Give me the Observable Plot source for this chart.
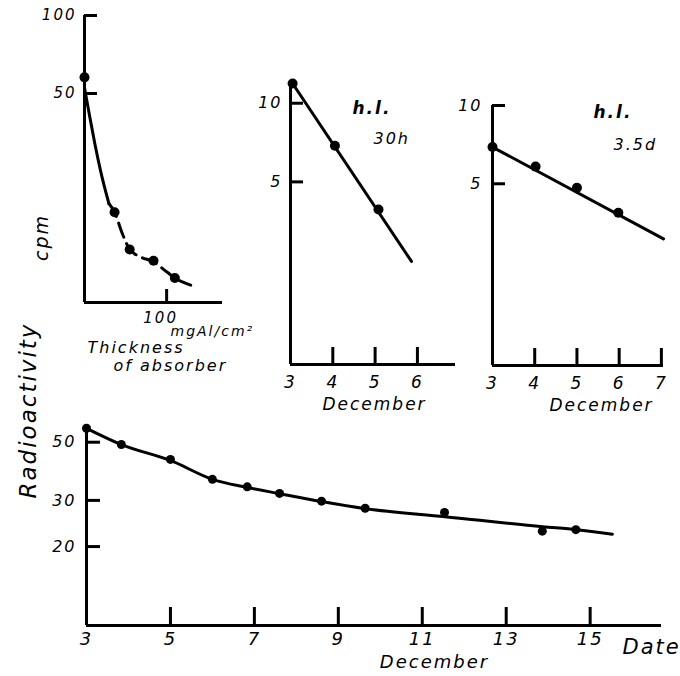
<!DOCTYPE html>
<html><head><meta charset="utf-8">
<script src="https://cdn.jsdelivr.net/npm/d3@7"></script>
<script src="https://cdn.jsdelivr.net/npm/@observablehq/plot@0.6"></script>
<style>
html,body{margin:0;padding:0;background:#fff;}
#chart{position:relative;width:680px;height:676px;background:#fff;overflow:hidden;}
#chart svg{position:absolute;overflow:visible;}
</style></head><body><div id="chart"></div>
<script>
// ---------- Data ----------
// Absorption curve (cpm vs thickness of absorber, mgAl/cm²)
const absorberX = [0, 36.6, 55, 84, 110];
const absorberCpm = [57.7, 17.4, 12.5, 11.3, 9.7];
const absorberFitX = [0, 6.5, 12.6, 19.5, 29.7, 36.6, 46, 55, 68.3, 83.7, 100.8, 110, 129.3];
const absorberFitCpm = [52.6, 40.5, 32.0, 25.2, 18.8, 17.4, 14.4, 12.5, 11.7, 11.2, 10.2, 9.7, 9.1];
const absorberXTicks = [100];
const absorberYTicks = [50, 100];

// Decay, half life 30 h (December 3-6)
const decayADay = [3.05, 4.05, 5.08];
const decayAValue = [11.9, 6.88, 3.92];
const decayAFitDay = [3.05, 5.86];
const decayAFitValue = [11.9, 2.48];
const decayAXTicks = [3, 4, 5, 6];
const decayAYTicks = [5, 10];

// Decay, half life 3.5 d (December 3-7)
const decayBDay = [3, 4.02, 5.0, 5.98];
const decayBValue = [6.92, 5.82, 4.83, 3.87];
const decayBFitDay = [3, 7.05];
const decayBFitValue = [6.92, 3.07];
const decayBXTicks = [3, 4, 5, 6, 7];
const decayBYTicks = [5, 10];

// Radioactivity vs date (December)
const dateDay = [3.0, 3.83, 5.0, 6.0, 6.83, 7.6, 8.6, 9.64, 11.53, 13.86, 14.66];
const dateValue = [56.5, 49, 43, 36.1, 33.8, 31.9, 29.8, 28.0, 27.0, 22.9, 23.2];
const dateFitDay = [3, 3.83, 5, 6, 6.84, 7.61, 8.6, 9.65, 11.54, 13.87, 14.68, 15.53];
const dateFitValue = [56.5, 49.0, 42.6, 36.1, 33.6, 31.8, 29.7, 27.9, 26.0, 23.8, 23.2, 22.3];
const dateXTicks = [3, 5, 7, 9, 11, 13, 15];
const dateYTicks = [20, 30, 50];

// ---------- Drawing ----------
const FONT = "'DejaVu Sans', 'Liberation Sans', sans-serif";
const idx = a => a.map((_, i) => i);

function label(str, anchor, dx, dy, opts = {}) {
  return Plot.text([str], {text: d => d, frameAnchor: anchor, dx, dy, fill: "#000", lineAnchor: "middle", ...opts});
}

function panel(cfg) {
  const {left, top, width, height, mt, mr, mb, ml, xDomain, yDomain, xTicks, yTicks,
    xTickLen, yTickLen, xPad, yPad, xSize, ySize, xLabelDx = 0, marks} = cfg;
  const p = Plot.plot({
    width, height,
    marginTop: mt, marginRight: mr, marginBottom: mb, marginLeft: ml,
    x: {type: "linear", domain: xDomain},
    y: {type: "log", domain: yDomain},
    style: {fontFamily: FONT, fontStyle: "italic", color: "#000", background: "transparent", overflow: "visible", letterSpacing: "2px"},
    marks: [
      Plot.ruleX([xDomain[0]], {stroke: "#000", strokeWidth: 3}),
      Plot.ruleY([yDomain[0]], {stroke: "#000", strokeWidth: 3}),
      Plot.axisY(yTicks, {anchor: "left", tickSize: yTickLen, dx: yTickLen, tickFormat: () => "", strokeWidth: 3}),
      Plot.axisY(yTicks, {anchor: "left", tickSize: 0, tickPadding: yPad, fontSize: ySize, tickFormat: d => String(d)}),
      Plot.axisX(xTicks, {anchor: "bottom", tickSize: xTickLen, dy: -xTickLen, tickFormat: () => "", strokeWidth: 3}),
      Plot.axisX(xTicks, {anchor: "bottom", tickSize: 0, tickPadding: xPad, dx: xLabelDx, fontSize: xSize, tickFormat: d => String(d)}),
      ...marks
    ]
  });
  p.style.position = "absolute";
  p.style.left = left + "px";
  p.style.top = top + "px";
  return p;
}

const chart = document.getElementById("chart");

// Panel A: absorption
const solidN = 5;
chart.appendChild(panel({
  left: 0, top: 0, width: 250, height: 380, mt: 15, mr: 28, mb: 78, ml: 84,
  xDomain: [0, 168], yDomain: [7.8, 100], xTicks: absorberXTicks, yTicks: absorberYTicks,
  xTickLen: 13, yTickLen: 13, xPad: 10, yPad: 8, xSize: 15, ySize: 15, xLabelDx: -6,
  marks: [
    Plot.line(idx(absorberFitX).slice(0, solidN), {x: i => absorberFitX[i], y: i => absorberFitCpm[i], curve: "monotone-x", stroke: "#000", strokeWidth: 3}),
    Plot.line(idx(absorberFitX).slice(solidN - 1), {x: i => absorberFitX[i], y: i => absorberFitCpm[i], curve: "monotone-x", stroke: "#000", strokeWidth: 3, strokeDasharray: "15,7"}),
    Plot.dot(idx(absorberX), {x: i => absorberX[i], y: i => absorberCpm[i], r: 5, fill: "#000", stroke: "none"}),
    label("mgAl/cm²", "bottom-left", 86, 29, {textAnchor: "start", fontSize: 14}),
    label("Thickness", "bottom-left", 3, 45, {textAnchor: "start", fontSize: 16}),
    label("of absorber", "bottom-left", 29, 63, {textAnchor: "start", fontSize: 16}),
    label("cpm", "top-left", -43, 222, {rotate: -90, textAnchor: "middle", fontSize: 19})
  ]
}));

// Panel B: h.l. 30 h
chart.appendChild(panel({
  left: 250, top: 0, width: 220, height: 420, mt: 83, mr: 15, mb: 56, ml: 40,
  xDomain: [3, 6.9], yDomain: [1, 11.9], xTicks: decayAXTicks, yTicks: decayAYTicks,
  xTickLen: 17, yTickLen: 13, xPad: 11, yPad: 8, xSize: 17, ySize: 16,
  marks: [
    Plot.line(idx(decayAFitDay), {x: i => decayAFitDay[i], y: i => decayAFitValue[i], stroke: "#000", strokeWidth: 3}),
    Plot.dot(idx(decayADay), {x: i => decayADay[i], y: i => decayAValue[i], r: 5, fill: "#000", stroke: "none"}),
    label("December", "bottom-left", 84, 40, {textAnchor: "middle", fontSize: 17}),
    label("h.l.", "top-left", 62, 25, {textAnchor: "start", fontSize: 17, fontWeight: "bold"}),
    label("30h", "top-left", 83, 55, {textAnchor: "start", fontSize: 16})
  ]
}));

// Panel C: h.l. 3.5 d
chart.appendChild(panel({
  left: 460, top: 0, width: 220, height: 420, mt: 105, mr: 17, mb: 55, ml: 32,
  xDomain: [3, 7.05], yDomain: [1, 10], xTicks: decayBXTicks, yTicks: decayBYTicks,
  xTickLen: 17, yTickLen: 13, xPad: 11, yPad: 10, xSize: 17, ySize: 16,
  marks: [
    Plot.line(idx(decayBFitDay), {x: i => decayBFitDay[i], y: i => decayBFitValue[i], stroke: "#000", strokeWidth: 3}),
    Plot.dot(idx(decayBDay), {x: i => decayBDay[i], y: i => decayBValue[i], r: 5, fill: "#000", stroke: "none"}),
    label("December", "bottom-left", 109, 40, {textAnchor: "middle", fontSize: 17}),
    label("h.l.", "top-left", 101, 7, {textAnchor: "start", fontSize: 17, fontWeight: "bold"}),
    label("3.5d", "top-left", 121, 39, {textAnchor: "start", fontSize: 16})
  ]
}));

// Panel D: radioactivity vs date
chart.appendChild(panel({
  left: 0, top: 380, width: 680, height: 296, mt: 47, mr: 19, mb: 51, ml: 86,
  xDomain: [3, 16.7], yDomain: [10, 56.9], xTicks: dateXTicks, yTicks: dateYTicks,
  xTickLen: 18, yTickLen: 14, xPad: 7, yPad: 10, xSize: 18, ySize: 16,
  marks: [
    Plot.line(idx(dateFitDay), {x: i => dateFitDay[i], y: i => dateFitValue[i], curve: "monotone-x", stroke: "#000", strokeWidth: 3}),
    Plot.dot(idx(dateDay), {x: i => dateDay[i], y: i => dateValue[i], r: 4.5, fill: "#000", stroke: "none"}),
    label("Date", "bottom-left", 536, 22, {textAnchor: "start", fontSize: 21}),
    label("December", "bottom-left", 348, 37, {textAnchor: "middle", fontSize: 18}),
    label("Radioactivity", "top-left", -58, -17, {rotate: -90, textAnchor: "middle", fontSize: 23})
  ]
}));
</script></body></html>
